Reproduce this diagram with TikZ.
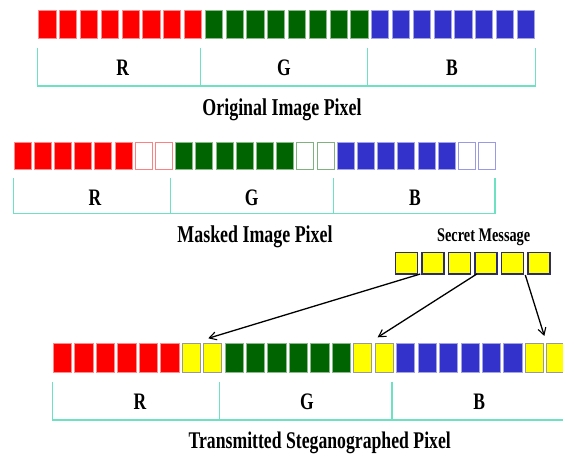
\documentclass[tikz,border=0pt]{standalone}
\usepackage{fontspec}
\setmainfont{Liberation Serif}
\usetikzlibrary{arrows.meta}
\definecolor{bitred}{RGB}{255,0,0}
\definecolor{bitgreen}{RGB}{0,100,0}
\definecolor{bitblue}{RGB}{51,51,204}
\definecolor{bityellow}{RGB}{255,255,0}
\definecolor{msgedge}{RGB}{45,45,110}
\definecolor{bracecol}{RGB}{110,225,195}
% bold serif text, stretched vertically
\newcommand{\tallbf}[2]{\scalebox{1}[1.35]{\fontsize{#1}{#1}\selectfont\bfseries #2}}

\begin{document}
\begin{tikzpicture}[x=1pt,y=-1pt,
  bit/.style={rectangle, inner sep=0pt, outer sep=0pt, line width=0.7pt, anchor=north west},
  rowone/.style={bit, minimum width=17.3, minimum height=28.3},
  rowtwo/.style={bit, minimum width=17, minimum height=26.7},
  rowthree/.style={bit, minimum width=18.3, minimum height=29},
  filledbit/.style={fill=#1, draw=#1!45!white},
  emptybit/.style={fill=white, draw=#1!50!white, line width=0.9pt},
  stegbit/.style={fill=bityellow, draw=black!40, line width=0.9pt},
  msgbit/.style={rectangle, inner sep=0pt, outer sep=0pt, anchor=north west,
    minimum width=22.3, minimum height=21.3, fill=bityellow, draw=msgedge, line width=1.4pt},
  bracket/.style={draw=bracecol, line width=1.4pt},
  lbl/.style={anchor=base, inner sep=0pt},
  link/.style={draw=black, line width=1.3pt, -{Straight Barb[length=7pt,width=8pt,line width=1.1pt]}}
]
\clip (0,0) rectangle (563,454);

% ---- original image pixel ----
\foreach \i in {0,...,7}
  \node[rowone, filledbit=bitred] (o\i) at ({38.7+20.8*\i},10) {};
\foreach \i in {8,...,15}
  \node[rowone, filledbit=bitgreen] (o\i) at ({38.7+20.8*\i},10) {};
\foreach \i in {16,...,23}
  \node[rowone, filledbit=bitblue] (o\i) at ({38.7+20.8*\i},10) {};
\draw[bracket] (37.7,47.7) -- (37.7,86) -- (535.3,86) -- (535.3,47.7);
\draw[bracket] (200.3,47.7) -- (200.3,86);
\draw[bracket] (367.7,47.7) -- (367.7,86);
\node[lbl] (or) at (122.7,76) {\tallbf{17.5}{R}};
\node[lbl] (og) at (284,76) {\tallbf{17.5}{G}};
\node[lbl] (ob) at (452,76) {\tallbf{17.5}{B}};
\node[lbl] (ocap) at (282,115.5) {\tallbf{17.9}{Original Image Pixel}};

% ---- masked image pixel ----
\foreach \i in {0,...,5}
  \node[rowtwo, filledbit=bitred] (k\i) at ({14+20.2*\i},142.3) {};
\foreach \i in {6,7}
  \node[rowtwo, emptybit=bitred] (k\i) at ({14+20.2*\i},142.3) {};
\foreach \i in {8,...,13}
  \node[rowtwo, filledbit=bitgreen] (k\i) at ({14+20.2*\i},142.3) {};
\foreach \i in {14,15}
  \node[rowtwo, emptybit=bitgreen] (k\i) at ({14+20.2*\i},142.3) {};
\foreach \i in {16,...,21}
  \node[rowtwo, filledbit=bitblue] (k\i) at ({14+20.2*\i},142.3) {};
\foreach \i in {22,23}
  \node[rowtwo, emptybit=bitblue] (k\i) at ({14+20.2*\i},142.3) {};
\draw[bracket] (13.3,177.7) -- (13.3,213.3) -- (495,213.3) -- (495,177.7);
\draw[bracket] (170.3,177.7) -- (170.3,213.3);
\draw[bracket] (333.3,177.7) -- (333.3,213.3);
\node[lbl] (kr) at (95,206) {\tallbf{17.5}{R}};
\node[lbl] (kg) at (251.7,206) {\tallbf{17.5}{G}};
\node[lbl] (kb) at (415,206) {\tallbf{17.5}{B}};
\node[lbl] (kcap) at (255,242.7) {\tallbf{17.9}{Masked Image Pixel}};

% ---- secret message ----
\node[lbl] (mcap) at (483.7,241.7) {\tallbf{14.3}{Secret Message}};
\foreach \j in {1,...,6}
  \node[msgbit] (m\j) at ({395.3+26.5*(\j-1)},252.7) {};

% ---- transmitted steganographed pixel ----
\foreach \i in {0,...,5}
  \node[rowthree, filledbit=bitred] (t\i) at ({53.3+21.45*\i},343.3) {};
\foreach \i in {6,7}
  \node[rowthree, stegbit] (t\i) at ({53.3+21.45*\i},343.3) {};
\foreach \i in {8,...,13}
  \node[rowthree, filledbit=bitgreen] (t\i) at ({53.3+21.45*\i},343.3) {};
\foreach \i in {14,15}
  \node[rowthree, stegbit] (t\i) at ({53.3+21.45*\i},343.3) {};
\foreach \i in {16,...,21}
  \node[rowthree, filledbit=bitblue] (t\i) at ({53.3+21.45*\i},343.3) {};
\foreach \i in {22,23}
  \node[rowthree, stegbit] (t\i) at ({53.3+21.45*\i},343.3) {};
\draw[bracket] (52.7,381.7) -- (52.7,420) -- (566,420);
\draw[bracket] (219.3,381.7) -- (219.3,420);
\draw[bracket] (392,381.7) -- (392,420);
\node[lbl] (tr) at (140,410) {\tallbf{17.5}{R}};
\node[lbl] (tg) at (307,410) {\tallbf{17.5}{G}};
\node[lbl] (tb) at (479.3,410) {\tallbf{17.5}{B}};
\node[lbl] (tcap) at (319.7,448.3) {\tallbf{17.7}{Transmitted Steganographed Pixel}};

% ---- embedding arrows ----
\draw[link] ([shift={(-1.5,0)}]m2.south west) -- ([shift={(4.8,-5)}]t7.north west);
\draw[link] ([shift={(2,0)}]m4.south west) -- ([shift={(2.6,-6)}]t15.north west);
\draw[link] ([shift={(-2.5,1)}]m6.south west) -- ([shift={(-2.3,-7.3)}]t23.north west);
\end{tikzpicture}
\end{document}
